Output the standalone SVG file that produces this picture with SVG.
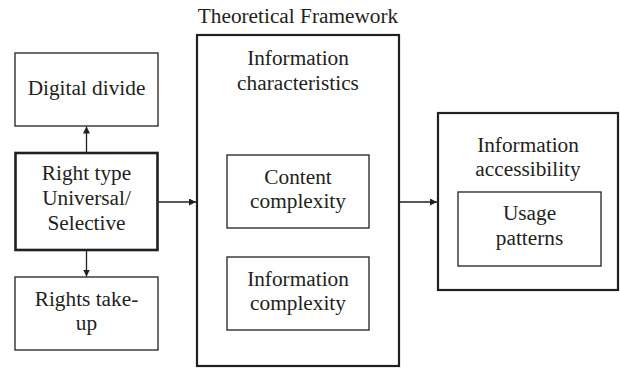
<svg xmlns="http://www.w3.org/2000/svg" width="620" height="368" viewBox="0 0 620 368">
  <style>
    .box { fill: #ffffff; stroke: #231f20; stroke-width: 1.3; }
    .thick { fill: #ffffff; stroke: #231f20; stroke-width: 2.6; }
    .frame { fill: none; stroke: #231f20; stroke-width: 2.2; }
    text { font-family: "Liberation Serif", "Times New Roman", serif; font-size: 21.3px; fill: #231f20; text-anchor: middle; }
    .conn { stroke: #231f20; stroke-width: 1.3; fill: none; marker-end: url(#arrow); }
  </style>
  <defs>
    <marker id="arrow" viewBox="0 0 10 10" refX="10" refY="5" markerWidth="7" markerHeight="7" markerUnits="userSpaceOnUse" orient="auto">
      <path d="M0,0 L10,5 L0,10 z" fill="#231f20"/>
    </marker>
  </defs>
  <rect width="620" height="368" fill="#ffffff"/>

  <text x="298" y="23">Theoretical Framework</text>

  <g id="framework">
    <rect class="frame" x="197" y="35" width="202" height="331"/>
    <text x="298" y="65">Information</text>
    <text x="298" y="90">characteristics</text>
  </g>

  <g id="content-complexity">
    <rect class="box" x="227" y="155" width="142" height="73"/>
    <text x="298" y="184">Content</text>
    <text x="298" y="208">complexity</text>
  </g>

  <g id="information-complexity">
    <rect class="box" x="227" y="257" width="142" height="73"/>
    <text x="298" y="286">Information</text>
    <text x="298" y="310">complexity</text>
  </g>

  <g id="digital-divide">
    <rect class="box" x="15" y="53" width="143" height="73"/>
    <text x="86.5" y="95">Digital divide</text>
  </g>

  <g id="right-type">
    <rect class="thick" x="15.5" y="153" width="142" height="97"/>
    <text x="86.5" y="180">Right type</text>
    <text x="86.5" y="205">Universal/</text>
    <text x="86.5" y="230">Selective</text>
  </g>

  <g id="rights-take-up">
    <rect class="box" x="15" y="277" width="143" height="73"/>
    <text x="86.5" y="306">Rights take-</text>
    <text x="86.5" y="330">up</text>
  </g>

  <g id="information-accessibility">
    <rect class="frame" x="438" y="113" width="180" height="177"/>
    <text x="528" y="152">Information</text>
    <text x="528" y="176">accessibility</text>
  </g>

  <g id="usage-patterns">
    <rect class="box" x="458" y="192" width="143" height="74"/>
    <text x="529.5" y="220">Usage</text>
    <text x="529.5" y="245">patterns</text>
  </g>

  <g id="connectors">
    <line class="conn" x1="86.5" y1="152" x2="86.5" y2="126.5"/>
    <line class="conn" x1="86.5" y1="251" x2="86.5" y2="276.5"/>
    <line class="conn" x1="158.5" y1="202" x2="196" y2="202"/>
    <line class="conn" x1="400" y1="202" x2="437" y2="202"/>
  </g>
</svg>
